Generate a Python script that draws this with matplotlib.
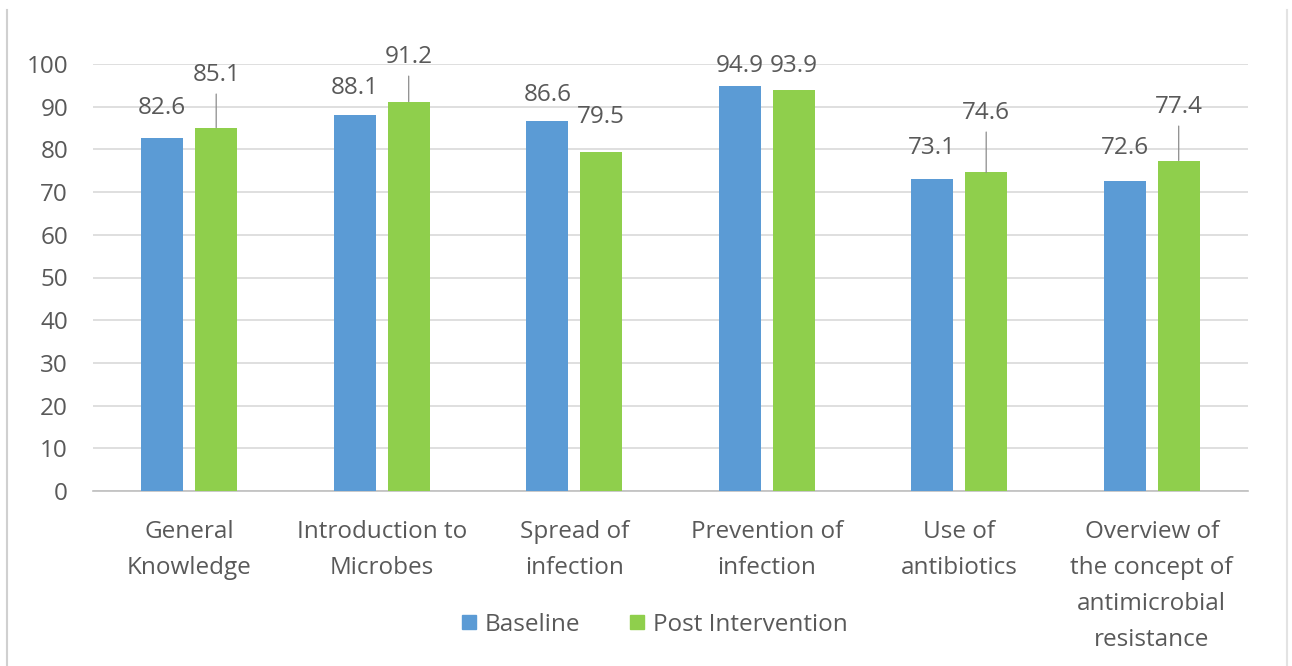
import matplotlib
matplotlib.use("Agg")
import matplotlib.pyplot as plt
from matplotlib.lines import Line2D
import numpy as np

plt.rcParams['font.family'] = ['Open Sans', 'DejaVu Sans']

categories = [
    "General\nKnowledge",
    "Introduction to\nMicrobes",
    "Spread of\ninfection",
    "Prevention of\ninfection",
    "Use of\nantibiotics",
    "Overview of\nthe concept of\nantimicrobial\nresistance",
]
baseline = [82.6, 88.1, 86.6, 94.9, 73.1, 72.6]
post = [85.1, 91.2, 79.5, 93.9, 74.6, 77.4]
yticks = [0, 10, 20, 30, 40, 50, 60, 70, 80, 90, 100]

# heights at which the value labels sit, and which labels get a leader line
baseline_label_y = [89.7, 94.4, 92.7, 99.5, 80.3, 80.3]
post_label_y = [97.4, 101.6, 87.6, 99.5, 88.5, 89.9]
post_leader = [True, True, False, False, True, True]

BLUE = "#5B9BD5"
GREEN = "#8FCF4C"
TEXT = "#595959"
GRID = "#D9D9D9"
FS = 17.5

fig = plt.figure(figsize=(12.92, 6.66), dpi=100)
ax = fig.add_axes([93 / 1292, 1 - 491 / 666, (1248 - 93) / 1292, (491 - 64) / 666])

x = np.arange(len(categories))
w = 0.22
off = 0.14
ax.bar(x - off, baseline, w, color=BLUE, zorder=3, label="Baseline")
ax.bar(x + off, post, w, color=GREEN, zorder=3, label="Post Intervention")

ax.set_xlim(-0.5, len(categories) - 0.5)
ax.set_ylim(0, 100)
ax.set_yticks(yticks)
ax.yaxis.grid(True, color=GRID, linewidth=1.2, zorder=0)
ax.set_axisbelow(True)
for s in ["top", "right", "left"]:
    ax.spines[s].set_visible(False)
ax.spines["bottom"].set_color("#BFBFBF")
ax.spines["bottom"].set_linewidth(1.2)
ax.tick_params(axis="y", length=0, pad=18, labelsize=FS, labelcolor=TEXT)
ax.tick_params(axis="x", length=0, pad=21, labelsize=FS, labelcolor=TEXT)
ax.set_xticks(x)
ax.set_xticklabels(categories, linespacing=1.67)

for i in range(len(categories)):
    ax.text(x[i] - off, baseline_label_y[i], f"{baseline[i]:.1f}", ha="center", va="center",
            fontsize=FS, color=TEXT, zorder=4)
    if post_leader[i]:
        ax.annotate(f"{post[i]:.1f}", xy=(x[i] + off, post[i]), xytext=(x[i] + off, post_label_y[i]),
                    ha="center", va="center", fontsize=FS, color=TEXT, zorder=4,
                    annotation_clip=False,
                    arrowprops=dict(arrowstyle="-", color="#8C8C8C", lw=0.9, shrinkA=3, shrinkB=0))
    else:
        ax.text(x[i] + off, post_label_y[i], f"{post[i]:.1f}", ha="center", va="center",
                fontsize=FS, color=TEXT, zorder=4)

handles = [
    Line2D([], [], marker="s", linestyle="none", markersize=10, markerfacecolor=BLUE, markeredgecolor=BLUE),
    Line2D([], [], marker="s", linestyle="none", markersize=10, markerfacecolor=GREEN, markeredgecolor=GREEN),
]
fig.legend(handles, ["Baseline", "Post Intervention"], loc="center",
           bbox_to_anchor=(654 / 1292, 1 - 625 / 666), ncol=2, frameon=False,
           fontsize=FS, labelcolor=TEXT, handletextpad=0.3, columnspacing=2.0, handlelength=0.7)

# thin frame lines at the left and right edges
fig.add_artist(Line2D([7 / 1292, 7 / 1292], [0, 1 - 10 / 666], transform=fig.transFigure, color="#D0D0D0", lw=1.5))
fig.add_artist(Line2D([1287 / 1292, 1287 / 1292], [0, 1 - 10 / 666], transform=fig.transFigure, color="#E3E3E3", lw=1.5))

fig.savefig("out.png", dpi=100, facecolor="white")
